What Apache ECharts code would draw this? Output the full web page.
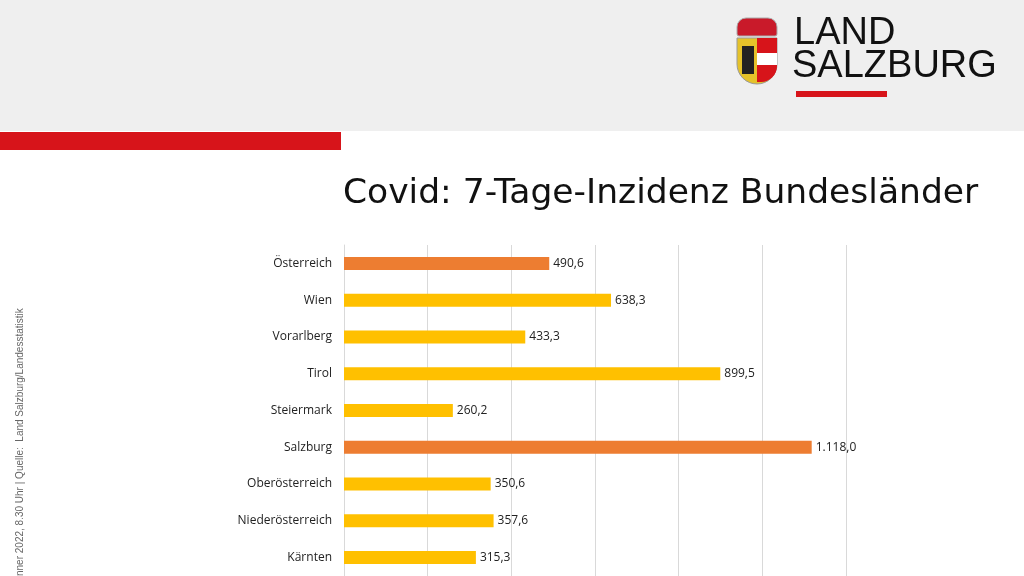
<!DOCTYPE html>
<html>
<head>
<meta charset="utf-8">
<script src="https://cdn.jsdelivr.net/npm/echarts@6/dist/echarts.min.js"></script>
<style>html,body{margin:0;padding:0;background:#fff}#chart{width:1024px;height:576px}</style>
</head>
<body>
<div id="chart"></div>
<script>
// categories from top to bottom
var regions = ["Österreich", "Wien", "Vorarlberg", "Tirol", "Steiermark", "Salzburg", "Oberösterreich", "Niederösterreich", "Kärnten"];
var incidence = [490.6, 638.3, 433.3, 899.5, 260.2, 1118.0, 350.6, 357.6, 315.3];
var highlighted = ["Österreich", "Salzburg"];

function fmt(v) {
    var s = v.toFixed(1).replace('.', ',');
    var parts = s.split(',');
    parts[0] = parts[0].replace(/\B(?=(\d{3})+(?!\d))/g, '.');
    return parts.join(',');
}

var chart = echarts.init(document.getElementById('chart'));
var option = {
    animation: false,
    grid: { left: 344, right: 178, top: 245, height: 336 },
    xAxis: {
        type: 'value', min: 0, max: 1200, interval: 200,
        axisLabel: { show: false },
        splitLine: { lineStyle: { color: '#d9d9d9' } }
    },
    yAxis: {
        type: 'category', inverse: true, data: regions,
        axisTick: { show: false },
        axisLine: { lineStyle: { color: '#d9d9d9' } },
        axisLabel: { color: '#222', fontSize: 12, fontFamily: 'Open Sans', margin: 12 }
    },
    series: [{
        type: 'bar',
        barWidth: 13,
        data: incidence.map(function (v, i) {
            return {
                value: v,
                itemStyle: { color: highlighted.indexOf(regions[i]) >= 0 ? '#ED7D31' : '#FFC000' }
            };
        }),
        label: {
            show: true, position: 'right', distance: 4, color: '#222',
            fontSize: 12, fontFamily: 'Open Sans',
            formatter: function (p) { return fmt(p.value); }
        }
    }],
    graphic: [
        { type: 'rect', shape: { x: 0, y: 0, width: 1024, height: 131 }, style: { fill: '#efefef' } },
        { type: 'rect', shape: { x: 0, y: 132, width: 341, height: 18 }, style: { fill: '#d7141a' } },
        { type: 'text', left: 343, top: 177, style: { text: 'Covid: 7-Tage-Inzidenz Bundesländer', fill: '#111', font: '34.5px "DejaVu Sans"' } },
        // logo
        { type: 'rect', shape: { x: 737, y: 38, width: 40, height: 46, r: [0, 0, 20, 20] }, style: { fill: '#e5c22a', stroke: '#999', lineWidth: 1 } },
        { type: 'rect', shape: { x: 757, y: 38, width: 20, height: 15 }, style: { fill: '#d7141a' } },
        { type: 'rect', shape: { x: 757, y: 53, width: 20, height: 12 }, style: { fill: '#fff' } },
        { type: 'rect', shape: { x: 757, y: 65, width: 20, height: 17, r: [0, 0, 16, 0] }, style: { fill: '#d7141a' } },
        { type: 'rect', shape: { x: 742, y: 46, width: 12, height: 28 }, style: { fill: '#222' } },
        { type: 'rect', shape: { x: 737, y: 18, width: 40, height: 18, r: [9, 9, 2, 2] }, style: { fill: '#c91a2a', stroke: '#aaa', lineWidth: 1 } },
        { type: 'text', left: 794, top: 15, style: { text: 'LAND', fill: '#111', font: '38px "Liberation Sans"' } },
        { type: 'text', left: 792, top: 48, style: { text: 'SALZBURG', fill: '#111', font: '38px "Liberation Sans"' } },
        { type: 'rect', shape: { x: 796, y: 91, width: 91, height: 6 }, style: { fill: '#d7141a' } },
        { type: 'text', x: 20, y: 576, rotation: Math.PI / 2, style: { text: 'nner 2022, 8.30 Uhr | Quelle:  Land Salzburg/Landesstatistik', fill: '#666', font: '10px "Liberation Sans"', align: 'left', verticalAlign: 'middle' } }
    ]
};
chart.setOption(option);
</script>
</body>
</html>
